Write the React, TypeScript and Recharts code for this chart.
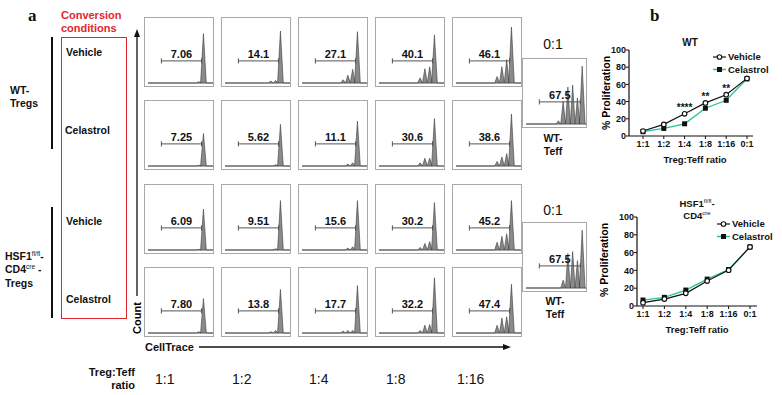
import { Area, AreaChart, LabelList, Line, LineChart, ReferenceLine, XAxis, YAxis } from 'recharts'

// panel a: gate percentages per row (WT vehicle, WT celastrol, HSF1 vehicle, HSF1 celastrol)
const ratios = ['1:1', '1:2', '1:4', '1:8', '1:16']
const gateValues = [
  ['7.06', '14.1', '27.1', '40.1', '46.1'],
  ['7.25', '5.62', '11.1', '30.6', '38.6'],
  ['6.09', '9.51', '15.6', '30.2', '45.2'],
  ['7.80', '13.8', '17.7', '32.2', '47.4'],
]
// peak heights per generation (undivided first)
const peakHeights = [
  [[0.76, 0.02], [0.8, 0.04, 0.03], [0.79, 0.21, 0.12, 0.05], [0.74, 0.25, 0.22, 0.08], [0.86, 0.36, 0.25, 0.1]],
  [[0.5, 0.01], [0.64, 0.02], [0.69, 0.05, 0.03], [0.73, 0.12, 0.12, 0.05], [0.8, 0.19, 0.14, 0.07]],
  [[0.63, 0.01], [0.76, 0.02], [0.76, 0.05, 0.03], [0.73, 0.13, 0.1, 0.04], [0.76, 0.25, 0.21, 0.12]],
  [[0.53, 0.02], [0.67, 0.04, 0.02], [0.73, 0.04, 0.04, 0.03], [0.85, 0.13, 0.12, 0.04], [0.75, 0.25, 0.23, 0.12]],
]
const teffGate = '67.5'
const teffPeaks = [
  [0.89, 0.4, 0.6, 0.57, 0.35, 0.05],
  [0.89, 0.42, 0.56, 0.53, 0.12],
]

// panel b
const ratioLabels = ['1:1', '1:2', '1:4', '1:8', '1:16', '0:1']
const wtVehicle = [5.8, 13.5, 25.8, 38.5, 48, 67]
const wtCelastrol = [5, 8.8, 14.2, 32.3, 41.5, 66.5]
const wtSig = ['', '', '****', '**', '**', '']
const hsfVehicle = [3.7, 7.8, 14.2, 28, 40.3, 66.4]
const hsfCelastrol = [6.7, 9.7, 17.9, 30.2, 41, 66.4]

const wtData = ratioLabels.map((r, i) => ({ ratio: r, vehicle: wtVehicle[i], celastrol: wtCelastrol[i], sig: wtSig[i] }))
const hsfData = ratioLabels.map((r, i) => ({ ratio: r, vehicle: hsfVehicle[i], celastrol: hsfCelastrol[i] }))

const font = '"Liberation Sans", Arial, sans-serif'
const red = '#e3262b'
const green = '#26c29a'

const colX = [144, 221, 298, 375, 452]
const rowY = [17, 100, 184, 267]

function buildHistogram(peaks: number[], main: number, w: number) {
  const pts = [{ x: 0, y: 0 }]
  for (let k = peaks.length - 1; k >= 0; k--) {
    const c = main - 5 * k
    const hw = k === 0 ? 3 : 2.5
    pts.push({ x: c - hw, y: 0 }, { x: c, y: peaks[k] }, { x: c + hw, y: 0 })
  }
  pts.push({ x: w, y: 0 })
  return pts
}

function Txt({ x, y, children, size = 10.5, bold = true, anchor = 'start', color = '#111', family = font }: any) {
  const tx = anchor === 'middle' ? '-50%' : anchor === 'end' ? '-100%' : '0'
  return (
    <div style={{ position: 'absolute', left: x, top: y, transform: `translate(${tx}, -50%)`, fontSize: size, fontWeight: bold ? 'bold' : 'normal', color, fontFamily: family, lineHeight: 1, whiteSpace: 'nowrap' }}>
      {children}
    </div>
  )
}

function Histogram({ left, top, width = 70, peaks, gate, main = 58 }: any) {
  const w = width - 2
  const data = buildHistogram(peaks, main, w)
  const gy = 0.34
  return (
    <div style={{ position: 'absolute', left, top, width, height: 70, border: '1px solid #a8a8a8', boxSizing: 'border-box', background: '#fff' }}>
      <AreaChart width={w} height={68} data={data} margin={{ top: 0, right: 0, bottom: 0, left: 0 }}>
        <XAxis type="number" dataKey="x" domain={[0, w]} ticks={[4, 10, 16, 22, 30, 38, 46, 54, 62]} tick={false} tickSize={2} height={3} axisLine={{ stroke: '#555' }} tickLine={{ stroke: '#555' }} />
        <YAxis type="number" domain={[0, 1]} ticks={[0.2, 0.4, 0.6, 0.8]} tick={false} tickSize={2} width={3} axisLine={false} tickLine={{ stroke: '#777' }} />
        <Area type="linear" dataKey="y" stroke="#3c3c3c" strokeWidth={0.6} fill="#8a8a8a" fillOpacity={1} isAnimationActive={false} dot={false} activeDot={false} />
        <ReferenceLine segment={[{ x: 14, y: gy }, { x: main - 2, y: gy }]} stroke="#555" strokeWidth={1}
          label={{ value: gate, position: 'top', offset: 3, fontSize: 11, fontWeight: 'bold', fill: '#111' }} />
        <ReferenceLine segment={[{ x: 14, y: gy - 0.04 }, { x: 14, y: gy + 0.04 }]} stroke="#555" />
        <ReferenceLine segment={[{ x: main - 2, y: gy - 0.04 }, { x: main - 2, y: gy + 0.04 }]} stroke="#555" />
      </AreaChart>
    </div>
  )
}

const squareDot = (props: any) => {
  const { cx, cy, key } = props
  return <rect key={key} x={cx - 2.5} y={cy - 2.5} width={5} height={5} fill="#111" />
}

const tickStyle = { fontSize: 9, fontWeight: 'bold', fill: '#111' }

function ProliferationChart({ top, data, yWidth, marginTop, marginRight, padLeft, padRight, sig }: any) {
  return (
    <div style={{ position: 'absolute', left: 600, top }}>
      <LineChart width={182} height={140} data={data} margin={{ top: marginTop, right: marginRight, bottom: 0, left: 0 }}>
        <XAxis dataKey="ratio" tick={tickStyle} tickSize={3} tickMargin={2} height={34} padding={{ left: padLeft, right: padRight }} axisLine={{ stroke: '#111', strokeWidth: 1.2 }} tickLine={{ stroke: '#111' }} interval={0} />
        <YAxis domain={[0, 100]} ticks={[0, 20, 40, 60, 80, 100]} tick={tickStyle} tickSize={3} tickMargin={0} width={yWidth} axisLine={{ stroke: '#111', strokeWidth: 1.2 }} tickLine={{ stroke: '#111' }} />
        <Line type="linear" dataKey="celastrol" stroke={green} strokeWidth={1.3} dot={squareDot} activeDot={false} isAnimationActive={false} />
        <Line type="linear" dataKey="vehicle" stroke="#111" strokeWidth={1.2} dot={{ r: 2.3, fill: '#fff', stroke: '#111', strokeWidth: 1.1 }} activeDot={false} isAnimationActive={false}>
          {sig && <LabelList dataKey="sig" position="top" offset={3} style={{ fontSize: 10, fontWeight: 'bold', fill: '#111' }} />}
        </Line>
      </LineChart>
    </div>
  )
}

function LegendRows({ x, y, textX }: any) {
  return (
    <>
      <svg style={{ position: 'absolute', left: x, top: y - 5 }} width={14} height={24}>
        <line x1={0} y1={5} x2={13} y2={5} stroke="#111" strokeWidth={1.2} />
        <circle cx={6.5} cy={5} r={2.3} fill="#fff" stroke="#111" strokeWidth={1.1} />
        <line x1={0} y1={17.5} x2={13} y2={17.5} stroke={green} strokeWidth={1.5} />
        <rect x={4} y={15} width={5} height={5} fill="#111" />
      </svg>
      <Txt x={textX} y={y} size={9.5}>Vehicle</Txt>
      <Txt x={textX} y={y + 12.5} size={9.5}>Celastrol</Txt>
    </>
  )
}

export default function App() {
  return (
    <div style={{ position: 'absolute', left: 0, top: 0, width: 782, height: 395, background: '#fff', fontFamily: font, overflow: 'hidden' }}>
      <Txt x={28} y={15} size={17} family='"Liberation Serif", "Times New Roman", serif'>a</Txt>
      <Txt x={650} y={15} size={17} family='"Liberation Serif", "Times New Roman", serif'>b</Txt>

      <Txt x={61} y={15} size={11} color={red}>Conversion</Txt>
      <Txt x={61} y={28} size={11} color={red}>conditions</Txt>
      <div style={{ position: 'absolute', left: 61, top: 37, width: 66, height: 282, border: `1.5px solid ${red}`, boxSizing: 'border-box' }} />

      <div style={{ position: 'absolute', left: 51, top: 37, width: 1.5, height: 112, background: '#111' }} />
      <div style={{ position: 'absolute', left: 51, top: 207, width: 1.5, height: 111, background: '#111' }} />

      <Txt x={10} y={90}>WT-</Txt>
      <Txt x={10} y={103}>Tregs</Txt>
      <Txt x={5} y={256}>HSF1<sup style={{ fontSize: 6.5, fontWeight: 'normal' }}>fl/fl</sup>-</Txt>
      <Txt x={5} y={269}>CD4<sup style={{ fontSize: 6.5, fontWeight: 'normal' }}>cre</sup> -</Txt>
      <Txt x={5} y={283}>Tregs</Txt>

      <Txt x={66} y={52}>Vehicle</Txt>
      <Txt x={65} y={130}>Celastrol</Txt>
      <Txt x={66} y={221}>Vehicle</Txt>
      <Txt x={66} y={299}>Celastrol</Txt>

      <svg style={{ position: 'absolute', left: 0, top: 0 }} width={782} height={395}>
        <line x1={137} y1={36} x2={137} y2={296} stroke="#111" strokeWidth={1.3} />
        <polygon points="137,29 134,37 140,37" fill="#111" />
        <line x1={199} y1={347} x2={504} y2={347} stroke="#111" strokeWidth={1.3} />
        <polygon points="511,347 503,344 503,350" fill="#111" />
      </svg>
      <div style={{ position: 'absolute', left: 137, top: 318, transform: 'translate(-50%, -50%) rotate(-90deg)', fontSize: 11, fontWeight: 'bold', lineHeight: 1 }}>Count</div>
      <Txt x={145} y={347} size={11}>CellTrace</Txt>

      <Txt x={135} y={372} size={11} anchor="end">Treg:Teff</Txt>
      <Txt x={135} y={385} size={11} anchor="end">ratio</Txt>
      {ratios.map((r, i) => (
        <Txt key={r} x={colX[i] + (i === 4 ? 5 : 11)} y={379} size={14} bold={false}>{r}</Txt>
      ))}

      {gateValues.map((row, ri) => row.map((g, ci) => (
        <Histogram key={`${ri}-${ci}`} left={colX[ci]} top={rowY[ri]} peaks={peakHeights[ri][ci]} gate={g} />
      )))}

      <Txt x={553} y={44} size={14} bold={false} anchor="middle">0:1</Txt>
      <Histogram left={522} top={58} width={65} peaks={teffPeaks[0]} gate={teffGate} main={59} />
      <Txt x={553} y={138} anchor="middle">WT-</Txt>
      <Txt x={553} y={151} anchor="middle">Teff</Txt>

      <Txt x={553} y={210} size={14} bold={false} anchor="middle">0:1</Txt>
      <Histogram left={522} top={222} width={65} peaks={teffPeaks[1]} gate={teffGate} main={59} />
      <Txt x={555} y={301} anchor="middle">WT-</Txt>
      <Txt x={555} y={314} anchor="middle">Teff</Txt>

      <ProliferationChart top={30} data={wtData} yWidth={29} marginTop={20} marginRight={29} padLeft={14} padRight={6} sig />
      <Txt x={690} y={43} size={10} anchor="middle">WT</Txt>
      <div style={{ position: 'absolute', left: 606, top: 93, transform: 'translate(-50%, -50%) rotate(-90deg)', fontSize: 10.5, fontWeight: 'bold', lineHeight: 1, whiteSpace: 'nowrap' }}>% Proliferation</div>
      <Txt x={695} y={160} size={9.5} anchor="middle">Treg:Teff ratio</Txt>
      <LegendRows x={713} y={57} textX={728} />

      <ProliferationChart top={200} data={hsfData} yWidth={37} marginTop={17} marginRight={25} padLeft={6} padRight={7} />
      <Txt x={697} y={203} size={9.5} anchor="middle">HSF1<sup style={{ fontSize: 6, fontWeight: 'normal' }}>fl/fl</sup>-</Txt>
      <Txt x={697} y={215} size={9.5} anchor="middle">CD4<sup style={{ fontSize: 6, fontWeight: 'normal' }}>cre</sup></Txt>
      <div style={{ position: 'absolute', left: 604, top: 260, transform: 'translate(-50%, -50%) rotate(-90deg)', fontSize: 10.5, fontWeight: 'bold', lineHeight: 1, whiteSpace: 'nowrap' }}>% Proliferation</div>
      <Txt x={697} y={330} size={9.5} anchor="middle">Treg:Teff ratio</Txt>
      <LegendRows x={717} y={224} textX={732} />
    </div>
  )
}
